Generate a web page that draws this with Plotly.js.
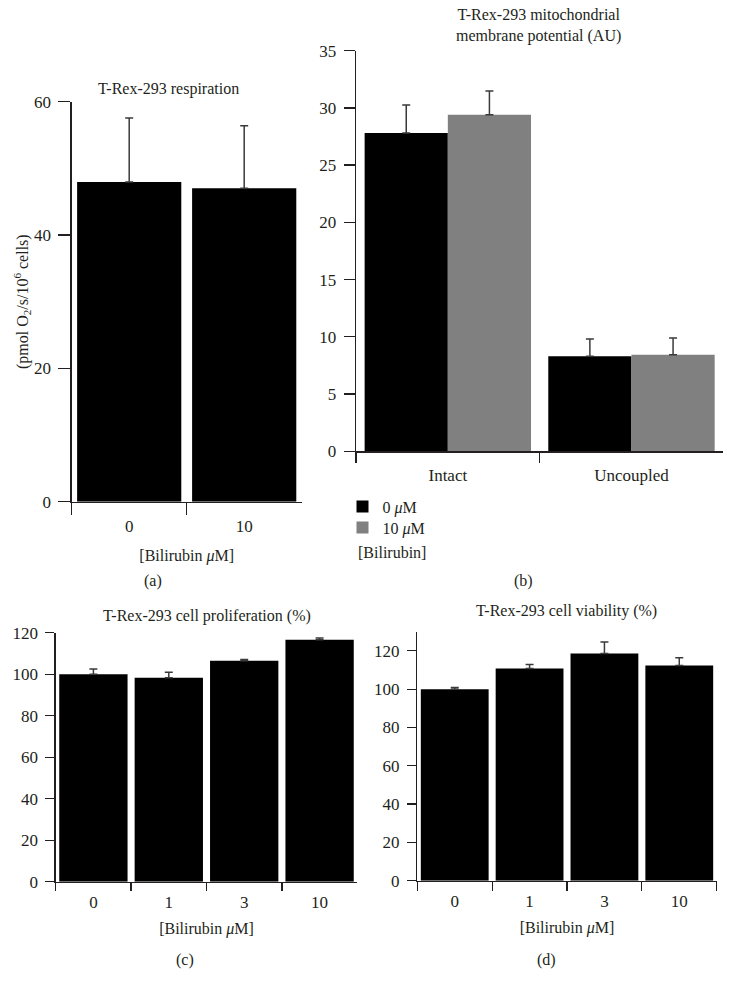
<!DOCTYPE html>
<html>
<head>
<meta charset="utf-8">
<script src="https://cdn.plot.ly/plotly-3.0.1.min.js"></script>
<style>html,body{margin:0;padding:0;background:#fff;}#chart{width:734px;height:993px;}</style>
</head>
<body>
<div id="chart"></div>
<script>
// ---- data ----
const respCats = ['0', '10'];
const respVals = [47.95, 47.0];
const respErr = [9.6, 9.4];

const mmpCats = ['Intact', 'Uncoupled'];
const mmpZero = [27.8, 8.3];
const mmpZeroErr = [2.45, 1.5];
const mmpTen = [29.4, 8.42];
const mmpTenErr = [2.07, 1.48];
const mmpSeriesNames = ['0 <i>μ</i>M', '10 <i>μ</i>M'];

const prolifCats = ['0', '1', '3', '10'];
const prolifVals = [100.0, 98.3, 106.5, 116.6];
const prolifErr = [2.5, 2.6, 0.6, 0.9];

const viabCats = ['0', '1', '3', '10'];
const viabVals = [100.0, 110.8, 118.6, 112.4];
const viabErr = [0.9, 2.1, 6.0, 4.0];

// ---- layout helpers ----
const W = 734, H = 993;
const px = v => v / W;
const py = v => 1 - v / H;
const FONT = 'Liberation Serif, Times New Roman, serif';
const TXT = '#231f20';
const BLACK = '#000000';
const GREY = '#808080';
const TICKSIZE = 17;

function err(arr) {
  return {type: 'data', array: arr, arrayminus: arr.map(() => 0), symmetric: false,
          color: '#3a3a3a', thickness: 1.5, width: 4};
}

const traces = [
  {type: 'bar', x: respCats, y: respVals, error_y: err(respErr), xaxis: 'x', yaxis: 'y',
   marker: {color: BLACK, line: {width: 0}}, showlegend: false},
  {type: 'bar', x: mmpCats, y: mmpZero, error_y: err(mmpZeroErr), xaxis: 'x2', yaxis: 'y2',
   name: mmpSeriesNames[0], marker: {color: BLACK, line: {width: 0}}, showlegend: true, legend: 'legend'},
  {type: 'bar', x: mmpCats, y: mmpTen, error_y: err(mmpTenErr), xaxis: 'x2', yaxis: 'y2',
   name: mmpSeriesNames[1], marker: {color: GREY, line: {width: 0}}, showlegend: true, legend: 'legend2'},
  {type: 'bar', x: prolifCats, y: prolifVals, error_y: err(prolifErr), xaxis: 'x3', yaxis: 'y3',
   marker: {color: BLACK, line: {width: 0}}, showlegend: false},
  {type: 'bar', x: viabCats, y: viabVals, error_y: err(viabErr), xaxis: 'x4', yaxis: 'y4',
   marker: {color: BLACK, line: {width: 0}}, showlegend: false}
];

function xax(anchor, x0, x1, n, tlen, title, standoff, lblOff) {
  const a = {
    anchor: anchor, domain: [px(x0), px(x1)], type: 'category', range: [-0.5, n - 0.5],
    showline: true, linecolor: TXT, linewidth: 1.3, ticks: 'outside', tickson: 'boundaries',
    ticklen: tlen, tickwidth: 1.3, tickcolor: TXT, showgrid: false, zeroline: false,
    tickfont: {family: FONT, size: TICKSIZE, color: TXT}, ticklabelstandoff: lblOff, fixedrange: true
  };
  if (title) a.title = {text: title, font: {family: FONT, size: 16, color: TXT}, standoff: standoff};
  return a;
}
function yax(anchor, y0, y1, range, dtick, tlen) {
  return {
    anchor: anchor, domain: [py(y1), py(y0)], range: range, dtick: dtick, tick0: 0,
    showline: true, linecolor: TXT, linewidth: 1.3, ticks: 'outside', ticklen: tlen,
    tickwidth: 1.3, tickcolor: TXT, showgrid: false, zeroline: false,
    tickfont: {family: FONT, size: TICKSIZE, color: TXT}, ticklabelstandoff: 4, fixedrange: true
  };
}

const yA = yax('x', 101.7, 501.7, [0, 60], 20, 12);
yA.title = {text: '(pmol O<sub>2</sub>/s/10<sup>6</sup> cells)', font: {family: FONT, size: 16, color: TXT}, standoff: 1};

const ann = (text, x, y, extra) => Object.assign({
  text: text, x: px(x), y: py(y), xref: 'paper', yref: 'paper', showarrow: false,
  xanchor: 'center', yanchor: 'middle', font: {family: FONT, size: 16, color: TXT}
}, extra || {});

const legendStyle = (topPx) => ({
  x: px(342.5), y: py(topPx), xanchor: 'left', yanchor: 'top', bgcolor: 'rgba(0,0,0,0)',
  font: {family: FONT, size: 16, color: TXT}, borderwidth: 0
});

const layout = {
  width: W, height: H, margin: {l: 0, r: 0, t: 0, b: 0},
  paper_bgcolor: '#ffffff', plot_bgcolor: '#ffffff',
  font: {family: FONT, size: 16, color: TXT},
  barmode: 'group', bargap: 0.094, bargroupgap: 0,
  xaxis: xax('y', 71.7, 301.7, respCats.length, 12, '[Bilirubin <i>μ</i>M]', 14, 9),
  yaxis: yA,
  xaxis2: xax('y2', 356, 723.3, mmpCats.length, 10, null, 0, 8),
  yaxis2: yax('x2', 50.7, 451.2, [0, 35], 5, 11),
  xaxis3: xax('y3', 55.7, 357.3, prolifCats.length, 8, '[Bilirubin <i>μ</i>M]', 11, 5),
  yaxis3: yax('x3', 632.7, 881.7, [0, 120], 20, 9),
  xaxis4: xax('y4', 417.3, 716.7, viabCats.length, 9, '[Bilirubin <i>μ</i>M]', 11, 5),
  yaxis4: yax('x4', 631.7, 880.7, [0, 130], 20, 9),
  showlegend: true,
  legend: legendStyle(489.7),
  legend2: legendStyle(510.7),
  annotations: [
    ann('T-Rex-293 respiration', 168, 89),
    ann('T-Rex-293 mitochondrial<br>membrane potential (AU)', 538, 26),
    ann('T-Rex-293 cell proliferation (%)', 206.7, 616),
    ann('T-Rex-293 cell viability (%)', 566.7, 610.7),
    ann('[Bilirubin]', 356, 552.7, {xanchor: 'left'}),
    ann('(a)', 153.3, 580.7),
    ann('(b)', 523.3, 580.7),
    ann('(c)', 185, 960),
    ann('(d)', 546, 960)
  ]
};

Plotly.newPlot('chart', traces, layout, {staticPlot: true, displayModeBar: false});
</script>
</body>
</html>
